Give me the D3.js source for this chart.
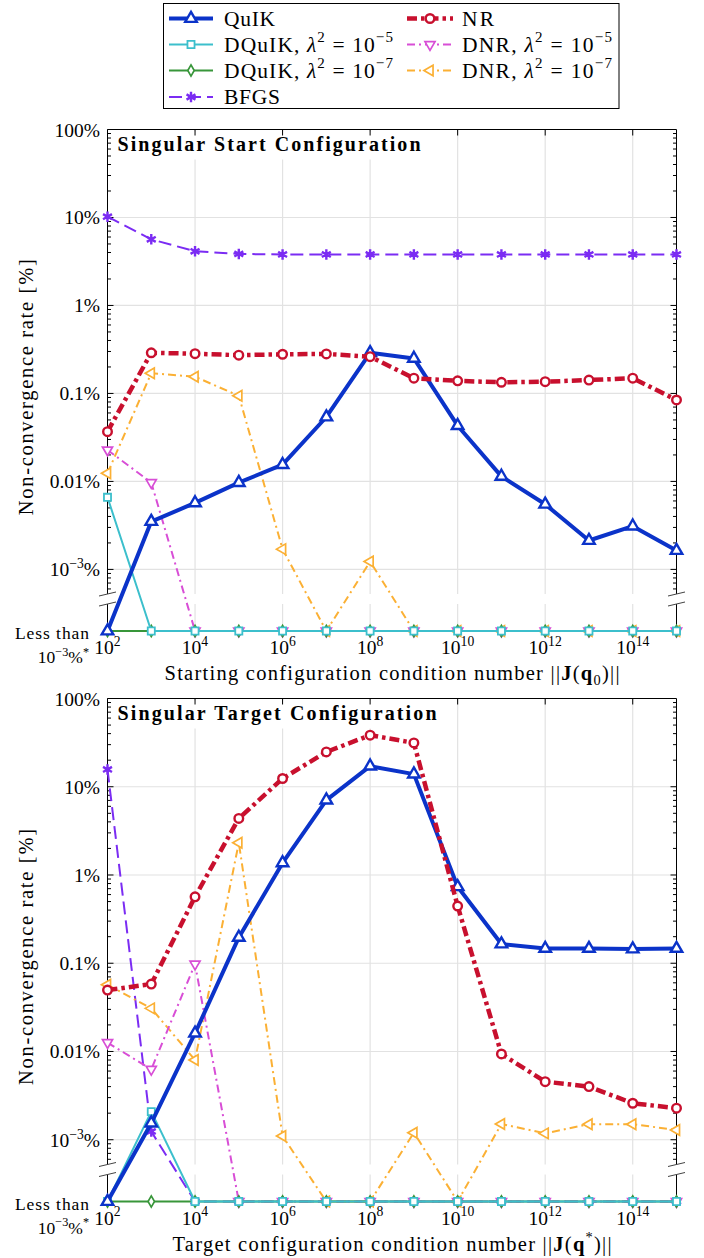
<!DOCTYPE html>
<html><head><meta charset="utf-8">
<script src="https://cdn.jsdelivr.net/npm/d3@7"></script>
<style>
body{margin:0;background:#fff}
svg{display:block}
text{font-family:"Liberation Serif","DejaVu Serif","Times New Roman",serif;fill:#000}
</style>
</head><body>
<svg id="chart" width="704" height="1258"></svg>
<script>
// ---------- data (values in %, 0 = "Less than 10^-3%*") ----------
const conditionNumbers = [1e2,1e3,1e4,1e5,1e6,1e7,1e8,1e9,1e10,1e11,1e12,1e13,1e14,1e15];
const xTickExponents = [2,4,6,8,10,12,14];
const yTickValues = [100,10,1,0.1,0.01,0.001];
const yTickLabels = ["100%","10%","1%","0.1%","0.01%","10^-3%"];
const seriesNames = ["QuIK","NR","DQuIK, λ2 = 10-5","DNR, λ2 = 10-5","DQuIK, λ2 = 10-7","DNR, λ2 = 10-7","BFGS"];

const startQuIK   = [0,0.0035,0.0057,0.0097,0.0155,0.054,0.29,0.25,0.043,0.0114,0.0055,0.00213,0.0031,0.00164];
const startNR     = [0.0368,0.29,0.283,0.272,0.279,0.281,0.262,0.149,0.139,0.134,0.136,0.142,0.149,0.0843];
const startDQuIK5 = [0.0066,0,0,0,0,0,0,0,0,0,0,0,0,0];
const startDQuIK7 = [0,0,0,0,0,0,0,0,0,0,0,0,0,0];
const startDNR5   = [0.0228,0.0097,0,0,0,0,0,0,0,0,0,0,0,0];
const startDNR7   = [0.0124,0.170,0.155,0.094,0.0017,0,0.00123,0,0,0,0,0,0,0];
const startBFGS   = [10.2,5.65,4.13,3.85,3.8,3.8,3.8,3.8,3.8,3.8,3.8,3.8,3.8,3.8];

const targetQuIK   = [0,0.00154,0.0161,0.196,1.37,7.05,17.1,13.9,0.735,0.165,0.147,0.147,0.145,0.147];
const targetNR     = [0.0497,0.058,0.566,4.37,12.4,24.8,38.4,31.4,0.445,0.00937,0.00455,0.0040,0.00259,0.00228];
const targetDQuIK5 = [0,0.00208,0,0,0,0,0,0,0,0,0,0,0,0];
const targetDQuIK7 = [0,0,0,0,0,0,0,0,0,0,0,0,0,0];
const targetDNR5   = [0.0126,0.00628,0.098,0,0,0,0,0,0,0,0,0,0,0];
const targetDNR7   = [0.057,0.0308,0.0080,2.32,0.0011,0,0,0.0012,0,0.00151,0.00118,0.0015,0.0015,0.00129];
const targetBFGS   = [15.7,0.00124,0,0,0,0,0,0,0,0,0,0,0,0];

// ---------- styles ----------
const styles = {
  "QuIK":   {color:"#0b33c9", width:4,   dash:null,        sym:d3.symbolTriangle, size:58, rot:0,   sw:2.4, fill:"#fff"},
  "NR":     {color:"#c8102e", width:4.5, dash:"10,4,3.5,4",sym:d3.symbolCircle,   size:58, rot:0,   sw:2.4, fill:"#fff"},
  "DQ5":    {color:"#3cbfcc", width:2,   dash:null,        sym:d3.symbolSquare,   size:50, rot:0,   sw:1.8, fill:"#fff"},
  "DQ7":    {color:"#38963a", width:2,   dash:null,        sym:d3.symbolDiamond,  size:36, rot:0,   sw:1.7, fill:"#fff"},
  "DNR5":   {color:"#d84ed6", width:2,   dash:"8,4,2,4",   sym:d3.symbolTriangle, size:44, rot:180, sw:1.7, fill:"#fff"},
  "DNR7":   {color:"#fbb034", width:2,   dash:"8,4,2,4",   sym:d3.symbolTriangle, size:48, rot:-90, sw:1.7, fill:"#fff"},
  "BFGS":   {color:"#7b2cf3", width:2,   dash:"13,6",      sym:d3.symbolAsterisk, size:75, rot:0,   sw:2.4, fill:"none"}
};

const panels = [
  {top:129.5, bottom:631, title:"Singular Start Configuration", titleLen:303,
   xlabel:[["Starting configuration condition number ||"],["J","b"],["("],["q","b"],["0","sub"],[")||"]], xlabelLen:455,
   series:{BFGS:startBFGS, DNR7:startDNR7, DNR5:startDNR5, DQ7:startDQuIK7, DQ5:startDQuIK5, QuIK:startQuIK, NR:startNR}},
  {top:698.5, bottom:1201.5, title:"Singular Target Configuration", titleLen:319,
   xlabel:[["Target configuration condition number ||"],["J","b"],["("],["q","b"],["*","sup"],[")||"]], xlabelLen:439,
   series:{BFGS:targetBFGS, DNR7:targetDNR7, DNR5:targetDNR5, DQ7:targetDQuIK7, DQ5:targetDQuIK5, QuIK:targetQuIK, NR:targetNR}}
];

const svg = d3.select("#chart");
const X0 = 107.5, X1 = 676.5;
const x = d3.scaleLog().domain([1e2,1e15]).range([X0,X1]);

function rich(sel, parts, size){
  let off = 0;
  parts.forEach(p => {
    const s = p[0], t = p[1] || "n";
    const target = t==="sup" ? -0.42*size : t==="sub" ? 0.22*size : 0;
    const ts = sel.append("tspan").text(s).attr("dy", target - off);
    off = target;
    if (t==="sup"||t==="sub") ts.attr("font-size", size*0.7);
    if (t==="b") ts.attr("font-weight","bold");
    if (t==="i") ts.attr("font-style","italic");
  });
  if (off !== 0) sel.append("tspan").text("").attr("dy", -off);
}
function tickParts(label){
  if (label.startsWith("10^")) {
    const m = label.match(/^10\^(-?\d+)(%?)$/);
    return [["10"],[m[1].replace("-","−"),"sup"],[m[2]]];
  }
  return [[label]];
}

function marker(g, st, cx, cy){
  g.append("path")
    .attr("d", d3.symbol().type(st.sym).size(st.size)())
    .attr("transform", `translate(${cx},${cy}) rotate(${st.rot})`)
    .attr("fill", st.fill).attr("stroke", st.color).attr("stroke-width", st.sw);
}

panels.forEach(P => {
  const y = d3.scaleLog().domain([Math.pow(10,-3.7),100]).range([P.bottom,P.top]);
  const yv = v => v > 0 ? y(v) : P.bottom;
  const c = P.bottom - 31;          // axis break centre
  const gapTop = c - 6, gapBot = c + 4;
  const g = svg.append("g");

  // grid
  const grid = g.append("g").attr("stroke","#e2e2e2").attr("stroke-width",1.2);
  yTickValues.slice(1).forEach(v => grid.append("line").attr("x1",X0).attr("x2",X1).attr("y1",y(v)).attr("y2",y(v)));
  xTickExponents.slice(1).forEach(e => {
    const xx = x(Math.pow(10,e));
    grid.append("line").attr("x1",xx).attr("x2",xx).attr("y1",P.top).attr("y2",gapTop);
    grid.append("line").attr("x1",xx).attr("x2",xx).attr("y1",gapBot).attr("y2",P.bottom);
  });

  // title box
  g.append("rect").attr("x",X0+1).attr("y",P.top+2).attr("width",P.titleLen+16).attr("height",28).attr("fill","#fff");
  g.append("text").attr("x",X0+10).attr("y",P.top+21.5).attr("font-size",20).attr("font-weight","bold")
    .attr("textLength",P.titleLen).attr("lengthAdjust","spacing").text(P.title);

  // frame / axes
  const ax = g.append("g").attr("stroke","#000").attr("stroke-width",1).attr("fill","none");
  ax.append("line").attr("x1",X0).attr("x2",X1).attr("y1",P.top).attr("y2",P.top);
  [X0,X1].forEach(xx => {
    ax.append("line").attr("x1",xx).attr("x2",xx).attr("y1",P.top).attr("y2",gapTop);
    ax.append("line").attr("x1",xx).attr("x2",xx).attr("y1",gapBot).attr("y2",P.bottom);
  });
  // y ticks
  for (let d=-4; d<=1; d++) for (let m=1; m<=9; m++) {
    const v = m*Math.pow(10,d);
    const yy = y(v);
    if (yy < P.top || yy > gapTop) continue;
    const len = m===1 ? 6 : 3.5;
    ax.append("line").attr("x1",X0).attr("x2",X0+len).attr("y1",yy).attr("y2",yy);
    ax.append("line").attr("x1",X1).attr("x2",X1-len).attr("y1",yy).attr("y2",yy);
  }
  // top x ticks
  xTickExponents.forEach(e => {
    const xx = x(Math.pow(10,e));
    ax.append("line").attr("x1",xx).attr("x2",xx).attr("y1",P.top).attr("y2",P.top+6);
  });
  // break marks
  [X0,X1].forEach(xx => {
    ax.append("line").attr("x1",xx-8.5).attr("x2",xx+8.5).attr("y1",c-4).attr("y2",c-8).attr("stroke","#444");
    ax.append("line").attr("x1",xx-8.5).attr("x2",xx+8.5).attr("y1",c+6).attr("y2",c+2).attr("stroke","#444");
  });

  // y tick labels
  yTickValues.forEach((v,i) => {
    const t = g.append("text").attr("x",100).attr("y",y(v)+7).attr("font-size",19.5).attr("text-anchor","end");
    rich(t, tickParts(yTickLabels[i]), 19.5);
  });
  g.append("text").attr("x",89).attr("y",P.bottom+8).attr("font-size",17.5).attr("text-anchor","end")
    .attr("textLength",74).attr("lengthAdjust","spacing").text("Less than");
  const lt = g.append("text").attr("x",89).attr("y",P.bottom+32).attr("font-size",17.5).attr("text-anchor","end");
  rich(lt, [["10"],["−3","sup"],["%"],["*","sup"]], 17.5);

  // x tick labels
  xTickExponents.forEach(e => {
    const t = g.append("text").attr("x",x(Math.pow(10,e))).attr("y",P.bottom+23).attr("font-size",19.5).attr("text-anchor","middle");
    rich(t, [["10"],[String(e),"sup"]], 19.5);
  });

  // axis labels
  const xl = g.append("text").attr("x",(X0+X1)/2).attr("y",P.bottom+49).attr("font-size",20.5)
    .attr("text-anchor","middle").attr("textLength",P.xlabelLen).attr("lengthAdjust","spacing");
  rich(xl, P.xlabel, 20.5);
  const midY = (P.top+P.bottom)/2 + 7;
  g.append("text").attr("transform",`translate(33,${midY}) rotate(-90)`).attr("font-size",20.5)
    .attr("text-anchor","middle").attr("textLength",256).attr("lengthAdjust","spacing").text("Non-convergence rate [%]");

  // series
  const line = d3.line().x((d,i) => x(conditionNumbers[i])).y(d => yv(d));
  Object.keys(P.series).forEach(k => {
    const st = styles[k], vals = P.series[k];
    const sg = g.append("g");
    sg.append("path").attr("d", line(vals)).attr("fill","none").attr("stroke",st.color)
      .attr("stroke-width",st.width).attr("stroke-dasharray",st.dash).attr("stroke-linejoin","round");
    vals.forEach((v,i) => marker(sg, st, x(conditionNumbers[i]), yv(v)));
  });
});

// ---------- legend ----------
const lg = svg.append("g");
lg.append("rect").attr("x",163.5).attr("y",3.5).attr("width",455.5).attr("height",105).attr("fill","#fff").attr("stroke","#000").attr("stroke-width",1);
const legendItems = [
  {k:"QuIK", col:0, row:0, len:51,  parts:[["QuIK"]]},
  {k:"NR",   col:1, row:0, len:32,  parts:[["NR"]]},
  {k:"DQ5",  col:0, row:1, len:169, parts:[["DQuIK, "],["λ","i"],["2","sup"],[" = 10"],["−5","sup"]]},
  {k:"DNR5", col:1, row:1, len:150, parts:[["DNR, "],["λ","i"],["2","sup"],[" = 10"],["−5","sup"]]},
  {k:"DQ7",  col:0, row:2, len:169, parts:[["DQuIK, "],["λ","i"],["2","sup"],[" = 10"],["−7","sup"]]},
  {k:"DNR7", col:1, row:2, len:150, parts:[["DNR, "],["λ","i"],["2","sup"],[" = 10"],["−7","sup"]]},
  {k:"BFGS", col:0, row:3, len:56,  parts:[["BFGS"]]}
];
const colX = [[169,213,224],[407,453,462]];
const rowY = [18.5,44.5,70.5,97];
legendItems.forEach(it => {
  const st = styles[it.k];
  const [a,b,tx] = colX[it.col], yy = rowY[it.row];
  lg.append("line").attr("x1",a).attr("x2",b).attr("y1",yy).attr("y2",yy)
    .attr("stroke",st.color).attr("stroke-width",st.width).attr("stroke-dasharray",st.dash);
  marker(lg, st, (a+b)/2, yy);
  const t = lg.append("text").attr("x",tx).attr("y",yy+7).attr("font-size",21.5)
    .attr("textLength",it.len).attr("lengthAdjust","spacing");
  rich(t, it.parts, 21.5);
});
</script>
</body></html>
